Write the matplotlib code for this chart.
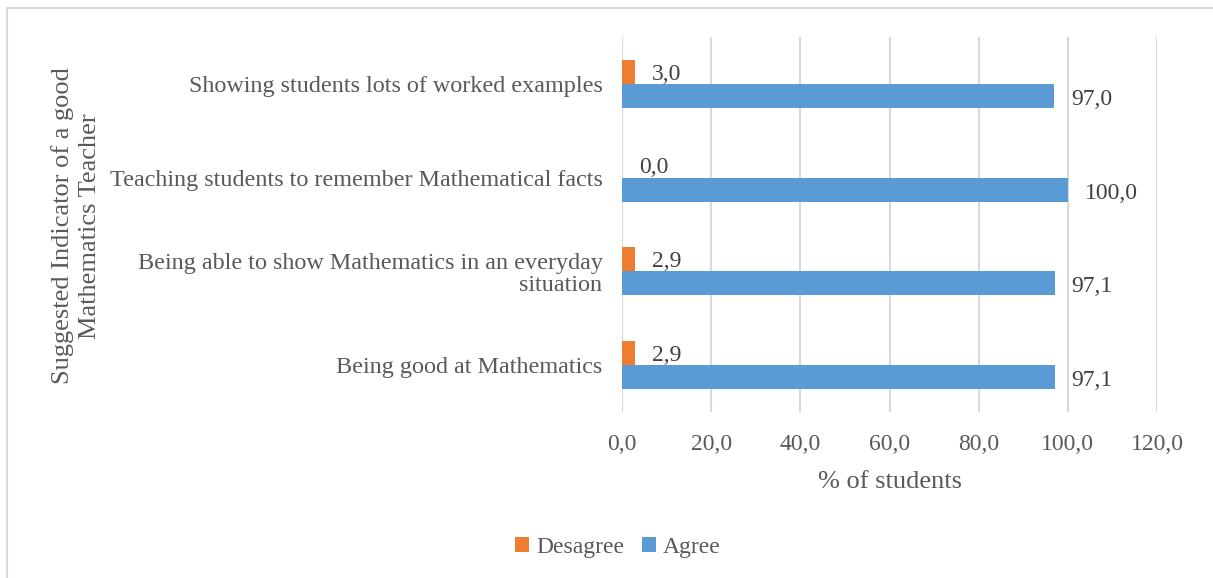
import numpy as np
import matplotlib
matplotlib.use('Agg')
import matplotlib.pyplot as plt
from matplotlib.patches import Rectangle

# Survey results: share of students agreeing / disagreeing with each indicator
indicators = [
    "Showing students lots of worked examples",
    "Teaching students to remember Mathematical facts",
    "Being able to show Mathematics in an everyday\nsituation",
    "Being good at Mathematics",
]
desagree = [3.0, 0.0, 2.9, 2.9]
agree = [97.0, 100.0, 97.1, 97.1]
x_ticks = [0, 20, 40, 60, 80, 100, 120]

ORANGE = '#ED7D31'
BLUE = '#5B9BD5'
TEXT = '#595959'
GRID = '#D9D9D9'
FS = 17

plt.rcParams['font.family'] = ['Liberation Serif', 'DejaVu Serif']

W, H = 1213, 578
fig = plt.figure(figsize=(W / 100, H / 100), dpi=100)

# plot area in pixel coordinates
left, right, top, bottom = 622, 1157, 37, 412
ax = fig.add_axes([left / W, 1 - bottom / H, (right - left) / W, (bottom - top) / H])

y = np.arange(len(indicators))
h = 0.255
ax.barh(y - h / 2, desagree, height=h, color=ORANGE, label='Desagree')
ax.barh(y + h / 2, agree, height=h, color=BLUE, label='Agree')

fmt = lambda v: f"{v:.1f}".replace('.', ',')
for yi, v in zip(y, desagree):
    ax.annotate(fmt(v), (v, yi - h / 2), xytext=(12, -1.5), textcoords='offset points',
                ha='left', va='center', fontsize=FS, color='#404040')
for yi, v in zip(y, agree):
    ax.annotate(fmt(v), (v, yi + h / 2), xytext=(12, -2.5), textcoords='offset points',
                ha='left', va='center', fontsize=FS, color='#404040')

ax.set_xlim(0, 120)
ax.set_ylim(len(indicators) - 0.5, -0.5)
ax.set_xticks(x_ticks)
ax.set_xticklabels([fmt(t) for t in x_ticks], fontsize=FS, color=TEXT)
ax.set_yticks(y)
ax.set_yticklabels(indicators, fontsize=17.4, color=TEXT, linespacing=1.05)
ax.tick_params(length=0, pad=14)
ax.tick_params(axis='x', pad=16)
ax.grid(axis='x', color=GRID, linewidth=1.5)
ax.set_axisbelow(True)
for s in ax.spines.values():
    s.set_visible(False)

ax.set_xlabel('% of students', fontsize=19, color=TEXT, labelpad=11)
fig.text(76 / W, 1 - 226 / H, 'Suggested Indicator of a good\nMathematics Teacher',
         rotation=90, ha='center', va='center', fontsize=19, color=TEXT,
         linespacing=1.3)

fig.legend(loc='center', bbox_to_anchor=(618 / W, 1 - 547 / H), ncol=2, frameon=False,
           fontsize=FS, handlelength=0.6, handleheight=0.6, handletextpad=0.3,
           columnspacing=0.75, labelcolor=TEXT)

# chart border
fig.patches.append(Rectangle((7 / W, -0.1), 1.2, 1 - 8 / H + 0.1, transform=fig.transFigure,
                             fill=False, edgecolor=GRID, linewidth=1.5))

fig.savefig('out.png', dpi=100)
